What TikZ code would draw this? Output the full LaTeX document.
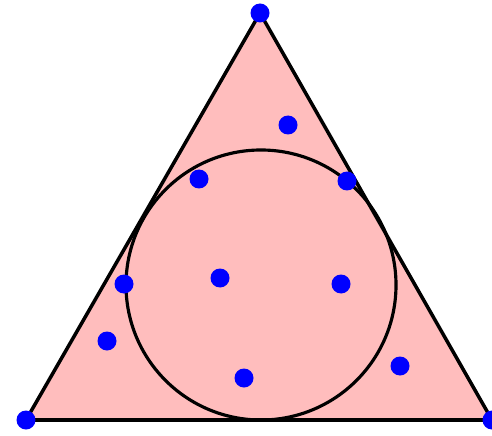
\documentclass[tikz,border=0pt]{standalone}
\usepackage{tikz}
\usetikzlibrary{calc}
\definecolor{pink}{RGB}{255,189,189}
\definecolor{blue}{RGB}{0,0,255}

\begin{document}
\begin{tikzpicture}[x=0.02cm, y=-0.02cm,
    dot/.style={circle, fill=blue, inner sep=0pt, minimum size=0.38cm}]

\useasboundingbox (0,0) rectangle (492,435);

%---------------------------------------
% Triangle and inscribed circle
%---------------------------------------
\def\R{135}

\coordinate (top)   at (260,13);
\coordinate (left)  at (26,420);
\coordinate (right) at (492,420);
\coordinate (ctr)   at (261,285);

\draw[line width=2pt, fill=pink, line join=round]
      (top) -- (left) -- (right) -- cycle;
\draw[line width=1.8pt] (ctr) circle (\R);

%---------------------------------------
% Points
%---------------------------------------
\node[dot] (v1) at (top) {};
\node[dot] (v2) at (left) {};
\node[dot] (v3) at (right) {};

\node[dot] (p1) at (288,125) {};
\node[dot] (p2) at (199,179) {};
\node[dot] (p3) at (347,181) {};
\node[dot] (p4) at (124,284) {};
\node[dot] (p5) at (220,278) {};
\node[dot] (p6) at (341,284) {};
\node[dot] (p7) at (107,341) {};
\node[dot] (p8) at (244,378) {};
\node[dot] (p9) at (400,366) {};

\end{tikzpicture}
\end{document}
